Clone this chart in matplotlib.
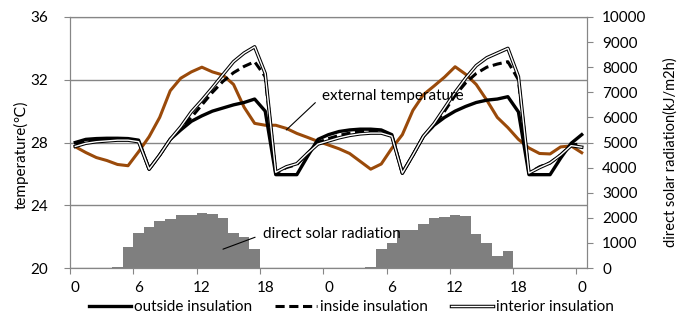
import numpy as np
import matplotlib
matplotlib.use("Agg")
import matplotlib.pyplot as plt

# hourly values over two days (0..48 h)
hours = np.arange(49)
tick_labels = ["0", "6", "12", "18", "0", "6", "12", "18", "0"]

outside = [28.0, 28.2, 28.25, 28.27, 28.27, 28.25, 28.15, 26.3, 27.2, 28.2,
           28.8, 29.35, 29.7, 30.0, 30.2, 30.4, 30.55, 30.77, 30.0, 25.95,
           25.95, 25.95, 27.1, 28.2, 28.5, 28.7, 28.8, 28.85, 28.85, 28.8,
           28.5, 26.05, 27.2, 28.4, 29.1, 29.6, 30.0, 30.3, 30.55, 30.7,
           30.77, 30.92, 29.95, 25.95, 25.95, 25.95, 27.0, 27.95, 28.5]
inside = [27.9, 28.1, 28.15, 28.2, 28.2, 28.2, 28.1, 26.3, 27.2, 28.2,
          28.9, 29.6, 30.4, 31.2, 31.9, 32.45, 32.85, 33.15, 32.2, 26.05,
          26.4, 26.6, 27.3, 28.0, 28.25, 28.45, 28.6, 28.7, 28.7, 28.7,
          28.45, 26.05, 27.2, 28.4, 29.1, 30.0, 31.0, 31.8, 32.4, 32.8,
          33.0, 33.15, 32.0, 26.05, 26.45, 26.7, 27.2, 27.85, 27.9]
interior = [27.75, 27.95, 28.05, 28.1, 28.15, 28.15, 28.05, 26.3, 27.2, 28.2,
            29.0, 29.95, 30.7, 31.5, 32.33, 33.15, 33.7, 34.1, 32.4, 26.1,
            26.45, 26.65, 27.3, 27.9, 28.1, 28.3, 28.45, 28.55, 28.6, 28.6,
            28.4, 26.05, 27.2, 28.4, 29.2, 30.2, 31.2, 32.1, 32.9, 33.4,
            33.7, 34.0, 32.2, 26.05, 26.4, 26.7, 27.2, 27.8, 27.7]
external = [27.73, 27.36, 27.04, 26.85, 26.6, 26.52, 27.41, 28.37, 29.6, 31.3,
            32.1, 32.5, 32.8, 32.5, 32.3, 31.7, 30.25, 29.22, 29.1, 29.1,
            28.9, 28.58, 28.33, 28.07, 27.84, 27.6, 27.3, 26.8, 26.3, 26.63,
            27.63, 28.5, 30.05, 31.05, 31.6, 32.17, 32.83, 32.35, 31.7, 30.7,
            29.6, 28.95, 28.2, 27.65, 27.3, 27.27, 27.72, 27.78, 27.35]
solar = [0, 0, 0, 0, 30, 820, 1380, 1650, 1870, 1950,
         2120, 2100, 2190, 2150, 2000, 1410, 1220, 745, 0, 0,
         0, 0, 0, 0, 0, 0, 0, 0, 40, 750,
         1000, 1510, 1510, 1745, 1980, 2025, 2110, 2060, 1350, 1000,
         480, 680, 0, 0, 0, 0, 0, 0, 0]

plt.rcParams['font.family'] = ['Lato', 'DejaVu Sans']
plt.rcParams['font.size'] = 11

grey = '#868686'
fig = plt.figure(figsize=(6.78, 3.21), dpi=100)
ax = fig.add_axes([70 / 678, 1 - 268 / 321, 517 / 678, 251 / 321])
ax2 = ax.twinx()
ax.set_zorder(ax2.get_zorder() + 1)
ax.patch.set_visible(False)

# radiation bars on the secondary axis
ax2.bar(hours, solar, width=1.0, color='#7f7f7f', edgecolor='none')
ax2.set_ylim(0, 10000)
ax2.set_yticks(np.arange(0, 10001, 1000))
ax2.tick_params(axis='y', length=4, color=grey, pad=7)
ax2.set_ylabel('direct solar radiation(kJ/m2h)', fontsize=10.5)
ax2.yaxis.set_label_coords(1.147, 0.46)

# temperatures
ax.plot(hours, external, color='#9a4a0a', lw=2.2)
lo, = ax.plot(hours, outside, color='black', lw=2.4)
li, = ax.plot(hours, inside, color='black', lw=2.2, ls=(0, (3, 1.5)))
l1, = ax.plot(hours, interior, color='black', lw=2.5)
l2, = ax.plot(hours, interior, color='white', lw=1.0)

ax.set_xlim(-0.5, 48.5)
ax.set_ylim(20, 36)
ax.set_yticks([20, 24, 28, 32, 36])
ax.yaxis.grid(True, color=grey, lw=1)
ax.set_axisbelow(True)
ax.tick_params(axis='y', length=4, color=grey, pad=12)
ax.set_ylabel('temperature(\u2103)')
ax.yaxis.set_label_coords(-0.08, 0.45)

ax.set_xticks(np.arange(-0.5, 48, 6))
ax.set_xticklabels([])
ax.tick_params(axis='x', which='major', length=4, color=grey)
ax.set_xticks(hours[::6], minor=True)
ax.set_xticklabels(tick_labels, minor=True)
ax.tick_params(axis='x', which='minor', length=0, pad=9)

for a in (ax, ax2):
    for s in a.spines.values():
        s.set_color(grey)

ax.annotate('external temperature', xy=(20.0, 28.8), xytext=(23.4, 30.95),
            va='center', ha='left',
            arrowprops=dict(arrowstyle='-', color='black', lw=0.8,
                            relpos=(0, 0.5), shrinkA=4, shrinkB=0))
ax.annotate('direct solar radiation', xy=(14.0, 21.2), xytext=(17.8, 22.15),
            va='center', ha='left',
            arrowprops=dict(arrowstyle='-', color='black', lw=0.8,
                            relpos=(0, 0.5), shrinkA=4, shrinkB=0))

fig.legend(handles=[lo, li, (l1, l2)],
           labels=['outside insulation', 'inside insulation', 'interior insulation'],
           loc='center', bbox_to_anchor=(351 / 678, 1 - 307 / 321), ncol=3,
           frameon=False, handlelength=2.75, handletextpad=0.2, columnspacing=1.5)

fig.savefig('out.png', dpi=100)
